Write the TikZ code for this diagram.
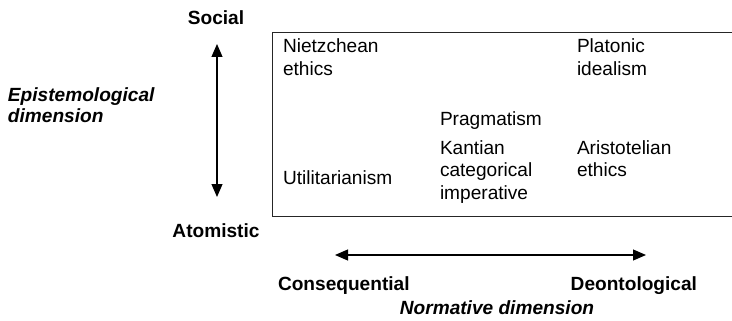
\documentclass[tikz,border=0pt]{standalone}
\usepackage{fontspec}
\setmainfont{Liberation Sans}
\usetikzlibrary{arrows.meta}
% lines stacked from the baseline of the first one
\newcommand{\toplines}[1]{\begin{tabular}[t]{@{}l@{}}#1\end{tabular}}
\begin{document}
\begin{tikzpicture}[x=1pt,y=-1pt,
  every node/.style={inner sep=0pt, outer sep=0pt},
  label/.style={font=\fontsize{19.1}{22.5}\selectfont, anchor=base west},
  axis/.style={font=\fontsize{19.1}{22}\selectfont\bfseries},
  dimension/.style={font=\fontsize{19.1}{21}\selectfont\bfseries\itshape},
  dimarrow/.style={line width=1.1pt, {Triangle[length=13pt,width=11pt]}-{Triangle[length=13pt,width=11pt]}}]
\useasboundingbox (0,0) rectangle (732,321);
\clip (0,0) rectangle (732,321);

% frame around the map of positions
\draw[line width=1pt, draw=black!85] (272,33) rectangle (740,216);

% positions inside the frame
\node[label] (nie) at (283,53) {\toplines{Nietzchean\\ethics}};
\node[label] (pla) at (577,53) {\toplines{Platonic\\idealism}};
\node[label] (pra) at (440,125) {Pragmatism};
\node[label] (kan) at (440,154) {\toplines{Kantian\\categorical\\imperative}};
\node[label] (uti) at (283,185) {Utilitarianism};
\node[label] (ari) at (577,154) {\toplines{Aristotelian\\ethics}};

% epistemological axis
\node[axis, anchor=base] (soc) at (216,25) {Social};
\node[axis, anchor=base] (ato) at (216,237) {Atomistic};
\coordinate (epiTop) at (217,44);
\coordinate (epiBot) at (217,197);
\draw[dimarrow] (epiTop) -- (epiBot);
\node[dimension, anchor=base west] (epi) at (8,102) {\toplines{Epistemological\\dimension}};

% normative axis
\coordinate (norL) at (335,255);
\coordinate (norR) at (646,255);
\draw[dimarrow] (norL) -- (norR);
\node[axis, anchor=base west] (con) at (278,290) {Consequential};
\node[axis, anchor=base east] (deo) at (697,290) {Deontological};
\node[dimension, anchor=base] (nor) at (497,314) {Normative dimension};
\end{tikzpicture}
\end{document}
